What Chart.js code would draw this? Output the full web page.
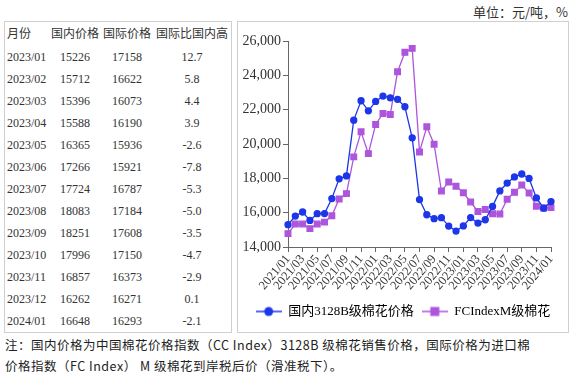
<!DOCTYPE html>
<html>
<head>
<meta charset="utf-8">
<script src="https://cdn.jsdelivr.net/npm/chart.js@4"></script>
<style>
  body { margin: 0; background: #fff; width: 574px; height: 375px; position: relative; overflow: hidden;
         font-family: "Liberation Serif", "Noto Sans CJK SC", serif; color: #333; }
  #unit { position: absolute; right: 6px; top: 2px; font: 13px "Noto Sans CJK SC"; color: #333; }
  #tblBox { position: absolute; left: 4px; top: 21px; width: 226px; height: 310px; border: 1px solid #cfcfcf; }
  #chartBox { position: absolute; left: 237px; top: 21px; width: 330px; height: 310px; border: 1px solid #cfcfcf; }
  .row { position: absolute; left: 0; width: 100%; height: 22px; line-height: 22px; font-size: 12px; }
  .row span { position: absolute; top: 0; white-space: nowrap; }
  .hdr { font-family: "Noto Sans CJK SC"; font-size: 12px; }
  #note { position: absolute; left: 5px; top: 334px; width: 572px; font: 12.5px "Noto Sans CJK SC"; line-height: 21px;
          letter-spacing: 0.5px; color: #222; white-space: nowrap; }
</style>
</head>
<body>
<div id="unit">单位：元/吨，%</div>
<div id="tblBox"></div>
<div id="chartBox"><canvas id="myChart"></canvas></div>
<div id="note">注：国内价格为中国棉花价格指数（CC Index）3128B 级棉花销售价格，国际价格为进口棉<br>价格指数（FC Index） M 级棉花到岸税后价（滑准税下）。</div>
<script>
// table data
var tblHeaders = ['月份', '国内价格', '国际价格', '国际比国内高'];
var tblMonths = ['2023/01', '2023/02', '2023/03', '2023/04', '2023/05', '2023/06', '2023/07',
                 '2023/08', '2023/09', '2023/10', '2023/11', '2023/12', '2024/01'];
var tblDomestic = [15226, 15712, 15396, 15588, 16365, 17266, 17724, 18083, 18251, 17996, 16857, 16262, 16648];
var tblIntl = [17158, 16622, 16073, 16190, 15936, 15921, 16787, 17184, 17608, 17150, 16373, 16271, 16293];
var tblDiff = ['12.7', '5.8', '4.4', '3.9', '-2.6', '-7.8', '-5.3', '-5.0', '-3.5', '-4.7', '-2.9', '0.1', '-2.1'];

// chart data
var months = ['2021/01', '2021/02', '2021/03', '2021/04', '2021/05', '2021/06', '2021/07', '2021/08', '2021/09',
              '2021/10', '2021/11', '2021/12', '2022/01', '2022/02', '2022/03', '2022/04', '2022/05', '2022/06',
              '2022/07', '2022/08', '2022/09', '2022/10', '2022/11', '2022/12', '2023/01', '2023/02', '2023/03',
              '2023/04', '2023/05', '2023/06', '2023/07', '2023/08', '2023/09', '2023/10', '2023/11', '2023/12',
              '2024/01'];
var domestic = [15300, 15800, 16040, 15550, 15940, 15950, 16820, 17970, 18140, 21390, 22520, 21930, 22480,
                22790, 22690, 22600, 22170, 20360, 16760, 15880, 15650, 15710, 15220, 14930, 15226, 15712,
                15396, 15588, 16365, 17266, 17724, 18083, 18251, 17996, 16857, 16262, 16648];
var fcIndex = [14780, 15340, 15340, 15070, 15340, 15450, 15820, 16800, 17110, 19250, 20710, 19440, 21140,
               21780, 21720, 24210, 25340, 25570, 19540, 21000, 19990, 17260, 17790, 17540, 17158, 16622,
               16073, 16190, 15936, 15921, 16787, 17184, 17608, 17150, 16373, 16271, 16293];
var seriesNames = ['国内3128B级棉花价格', 'FCIndexM级棉花'];
var yTicks = [14000, 16000, 18000, 20000, 22000, 24000, 26000];

var blue = '#1d36e8';
var purple = '#ad55dc';

// build table
var box = document.getElementById('tblBox');
var colX = [{left: 2}, {center: 70}, {center: 122}, {center: 187}];
function addRow(cells, top, cls) {
    var row = document.createElement('div');
    row.className = 'row ' + (cls || '');
    row.style.top = top + 'px';
    cells.forEach(function(txt, i) {
        var s = document.createElement('span');
        s.textContent = txt;
        if (colX[i].left !== undefined) {
            s.style.left = colX[i].left + 'px';
        } else {
            s.style.left = colX[i].center + 'px';
            s.style.transform = 'translateX(-50%)';
        }
        row.appendChild(s);
    });
    box.appendChild(row);
}
addRow(tblHeaders, 0, 'hdr');
for (var i = 0; i < tblMonths.length; i++) {
    addRow([tblMonths[i], tblDomestic[i], tblIntl[i], tblDiff[i]], 24 + i * 22);
}

// legend icons: line with marker
function legendIcon(color, shape) {
    var c = document.createElement('canvas');
    c.width = 26; c.height = 12;
    var g = c.getContext('2d');
    g.strokeStyle = color; g.lineWidth = 1.5;
    g.beginPath(); g.moveTo(0, 6); g.lineTo(26, 6); g.stroke();
    g.fillStyle = color;
    if (shape === 'circle') {
        g.beginPath(); g.arc(13, 6, 4.5, 0, Math.PI * 2); g.fill();
    } else {
        g.fillRect(8.5, 1.5, 9, 9);
    }
    return c;
}
var icons = [legendIcon(blue, 'circle'), legendIcon(purple, 'rect')];

var config = {
    type: 'line',
    data: {
        labels: months,
        datasets: [{
            label: seriesNames[0],
            data: domestic,
            borderColor: blue,
            backgroundColor: blue,
            borderWidth: 1.3,
            pointStyle: 'circle',
            pointRadius: 3,
            tension: 0
        }, {
            label: seriesNames[1],
            data: fcIndex,
            borderColor: purple,
            backgroundColor: purple,
            borderWidth: 1.3,
            pointStyle: 'rect',
            pointRadius: 4,
            tension: 0
        }]
    },
    options: {
        responsive: true,
        maintainAspectRatio: false,
        animation: false,
        layout: { padding: { left: 0, right: 0, top: 19, bottom: 4 } },
        plugins: {
            tooltip: { enabled: false },
            legend: {
                position: 'bottom',
                labels: {
                    usePointStyle: true,
                    pointStyleWidth: 26,
                    boxHeight: 12,
                    padding: 8,
                    color: '#333',
                    font: { family: '"Liberation Serif", "Noto Sans CJK SC"', size: 13 },
                    generateLabels: function(chart) {
                        return chart.data.datasets.map(function(ds, i) {
                            return { text: ds.label, pointStyle: icons[i], fillStyle: ds.borderColor,
                                     strokeStyle: ds.borderColor, lineWidth: 0, datasetIndex: i };
                        });
                    }
                }
            }
        },
        scales: {
            x: {
                offset: false,
                grid: { drawOnChartArea: false, tickLength: 5, color: '#666' },
                border: { color: '#666' },
                ticks: {
                    autoSkip: false,
                    minRotation: 50,
                    maxRotation: 50,
                    padding: 0,
                    color: '#333',
                    font: { family: 'Liberation Serif', size: 12.5 },
                    callback: function(v, idx) { return idx % 2 === 0 ? months[idx] : null; }
                },
                afterFit: function(scale) { scale.height = 50; }
            },
            y: {
                min: yTicks[0],
                max: yTicks[yTicks.length - 1],
                grid: { drawOnChartArea: false, tickLength: 5, color: '#666' },
                border: { color: '#666' },
                ticks: {
                    stepSize: 2000,
                    padding: 2,
                    color: '#333',
                    font: { family: 'Liberation Serif', size: 14 }
                },
                afterFit: function(scale) { scale.width = 50; }
            },
            // empty right-hand axis, only keeps the plot clear of the box edge
            yRight: {
                position: 'right',
                display: true,
                grid: { display: false },
                border: { display: false },
                ticks: { display: false },
                afterFit: function(scale) { scale.width = 17; }
            }
        }
    }
};

window.onload = function() {
    var ctx = document.getElementById('myChart').getContext('2d');
    window.myLine = new Chart(ctx, config);
};
</script>
</body>
</html>
